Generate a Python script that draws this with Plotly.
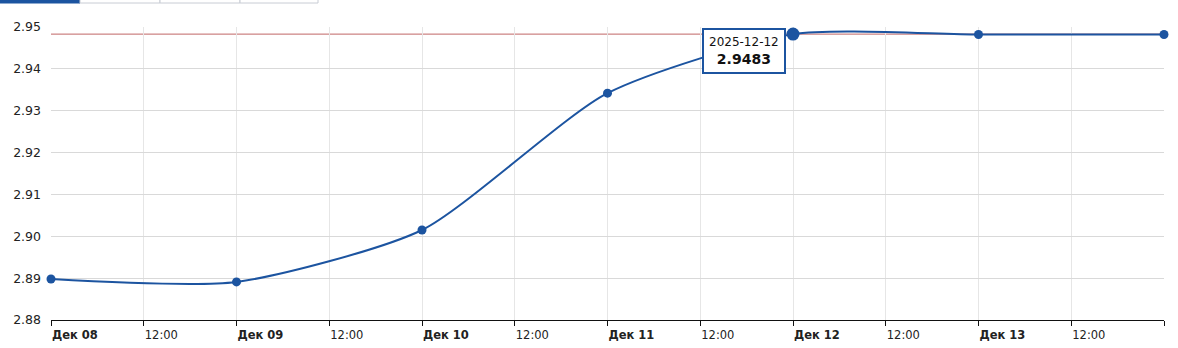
import plotly.graph_objects as go

dates = ["2025-12-08", "2025-12-09", "2025-12-10", "2025-12-11", "2025-12-12", "2025-12-13", "2025-12-14"]
values = [2.8898, 2.8891, 2.9015, 2.9342, 2.9483, 2.9482, 2.9482]

tick_vals = ["2025-12-08 00:00", "2025-12-08 12:00", "2025-12-09 00:00", "2025-12-09 12:00",
             "2025-12-10 00:00", "2025-12-10 12:00", "2025-12-11 00:00", "2025-12-11 12:00",
             "2025-12-12 00:00", "2025-12-12 12:00", "2025-12-13 00:00", "2025-12-13 12:00",
             "2025-12-14 00:00"]
tick_text = ["<b>Дек 08</b>", "12:00", "<b>Дек 09</b>", "12:00", "<b>Дек 10</b>", "12:00",
             "<b>Дек 11</b>", "12:00", "<b>Дек 12</b>", "12:00", "<b>Дек 13</b>", "12:00", ""]

hover_date = "2025-12-12"
hover_value = 2.9483

W, H = 1178, 348
L, R, T, B = 51, 14, 27, 28
PW, PH = W - L - R, H - T - B

def px(x):
    return (x - L) / PW

def py(y):
    return (H - B - y) / PH

LINE = "#1c54a0"

fig = go.Figure()
fig.add_trace(go.Scatter(
    x=dates, y=values, mode="lines+markers",
    line=dict(color=LINE, width=2, shape="spline", smoothing=0.65),
    marker=dict(color=LINE, size=9),
    cliponaxis=False, hoverinfo="skip", showlegend=False,
))
fig.add_trace(go.Scatter(
    x=[hover_date], y=[hover_value], mode="markers",
    marker=dict(color=LINE, size=13),
    cliponaxis=False, hoverinfo="skip", showlegend=False,
))

shapes = [
    dict(type="line", xref="paper", yref="y", x0=0, x1=1, y0=hover_value, y1=hover_value,
         line=dict(color="#c06666", width=1), layer="below"),
]
# top tabs
tabs = [(0, 80, True), (80, 160, False), (160, 240, False), (240, 318, False)]
for x0, x1, active in tabs:
    shapes.append(dict(type="rect", xref="paper", yref="paper",
                       x0=px(x0), x1=px(x1), y0=py(3), y1=py(-6),
                       fillcolor=LINE if active else "white",
                       line=dict(color=LINE if active else "#c8ccd4", width=1)))
fig.update_layout(shapes=shapes)

fig.add_annotation(
    x=hover_date, y=hover_value, xref="x", yref="y",
    text="<span style='font-size:12px'>2025-12-12</span><br><b>2.9483</b>",
    showarrow=False, xanchor="right", yanchor="top", xshift=-7, yshift=6,
    align="center", bgcolor="white", bordercolor=LINE, borderwidth=2, borderpad=5,
    font=dict(family="DejaVu Sans", size=14, color="#111"),
)

fig.update_layout(
    width=W, height=H,
    margin=dict(l=L, r=R, t=T, b=B, autoexpand=False),
    plot_bgcolor="white", paper_bgcolor="white",
    font=dict(family="DejaVu Sans", size=11.5, color="#222"),
    xaxis=dict(
        type="date", range=["2025-12-08", "2025-12-14"], automargin=False,
        tickmode="array", tickvals=tick_vals, ticktext=tick_text,
        ticklabelposition="outside right", ticklabelstandoff=4,
        tickfont=dict(size=11.5, color="#222"),
        showgrid=True, gridcolor="#e6e6e6", gridwidth=1,
        showline=True, linecolor="#111", linewidth=1,
        ticks="outside", ticklen=5, tickcolor="#111",
        zeroline=False,
    ),
    yaxis=dict(
        range=[2.88, 2.95], tickmode="array", automargin=False,
        tickvals=[2.88, 2.89, 2.90, 2.91, 2.92, 2.93, 2.94, 2.95],
        tickformat=".2f", showgrid=True, gridcolor="#d9d9d9", gridwidth=1,
        tickfont=dict(size=12.5, color="#222"),
        showline=False, zeroline=False, ticks="", ticklabelstandoff=9,
    ),
)

fig.write_html("out.html")
